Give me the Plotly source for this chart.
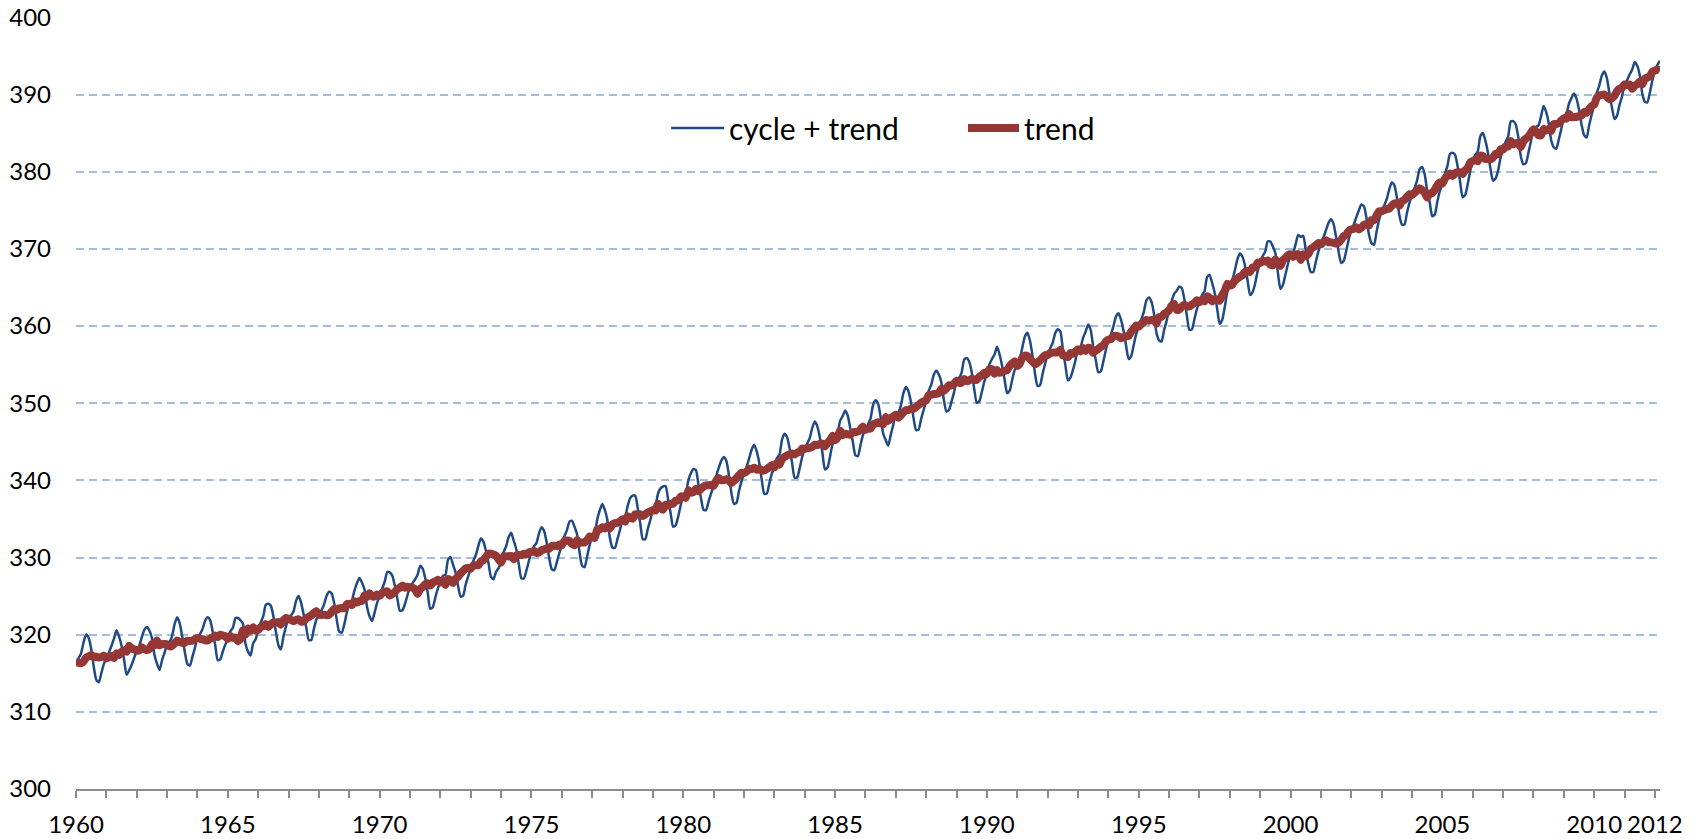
import plotly.graph_objects as go

# ---- Monthly CO2 (ppm), "cycle + trend", Jan 1960 .. Mar 2012 (12 values per row = one year)
cycle_1960s = [
    316.43, 316.97, 317.58, 319.02, 320.03, 319.59, 318.18, 315.91, 314.16, 313.83, 315.00, 316.19,
    316.93, 317.70, 318.54, 319.48, 320.58, 319.77, 318.57, 316.79, 314.80, 315.38, 316.10, 317.01,
    317.94, 318.56, 319.68, 320.63, 321.01, 320.55, 319.58, 317.40, 316.26, 315.42, 316.69, 317.69,
    318.74, 319.08, 319.86, 321.39, 322.25, 321.47, 319.74, 317.77, 316.21, 315.99, 317.12, 318.31,
    319.57, 320.07, 320.73, 321.77, 322.25, 321.89, 320.44, 318.70, 316.70, 316.79, 317.79, 318.71,
    319.44, 320.44, 320.89, 322.13, 322.16, 321.87, 321.39, 318.80, 317.81, 317.30, 318.87, 319.42,
    320.62, 321.59, 322.39, 323.87, 324.01, 323.75, 322.39, 320.37, 318.64, 318.10, 319.79, 321.08,
    322.07, 322.50, 323.04, 324.42, 325.00, 324.09, 322.55, 320.92, 319.31, 319.31, 320.72, 321.96,
    322.57, 323.15, 323.89, 325.02, 325.57, 325.36, 324.14, 322.03, 320.41, 320.25, 321.31, 322.84,
    324.00, 324.42, 325.64, 326.66, 327.34, 326.76, 325.88, 323.67, 322.38, 321.78, 322.85, 324.11,
]
cycle_1970s = [
    325.03, 325.99, 326.87, 328.13, 328.07, 327.66, 326.35, 324.69, 323.10, 323.16, 323.98, 325.13,
    326.17, 326.68, 327.18, 327.78, 328.92, 328.57, 327.34, 325.46, 323.36, 323.57, 324.80, 326.01,
    326.77, 327.63, 327.75, 329.72, 330.07, 329.09, 328.05, 326.32, 324.93, 325.06, 326.50, 327.55,
    328.54, 329.56, 330.30, 331.50, 332.48, 332.07, 330.87, 329.31, 327.51, 327.18, 328.16, 328.64,
    329.35, 330.71, 331.48, 332.65, 333.20, 332.16, 331.07, 329.12, 327.32, 327.28, 328.30, 329.58,
    330.73, 331.46, 331.90, 333.17, 333.94, 333.45, 331.97, 329.95, 328.50, 328.34, 329.37, 330.58,
    331.59, 332.75, 333.52, 334.64, 334.77, 334.00, 333.06, 330.68, 328.95, 328.75, 330.15, 331.62,
    332.66, 333.13, 334.95, 336.13, 336.93, 336.17, 334.88, 332.56, 331.29, 331.27, 332.41, 333.60,
    334.95, 335.25, 336.66, 337.69, 338.03, 338.01, 336.41, 334.41, 332.37, 332.41, 333.75, 334.90,
    336.14, 336.69, 338.27, 338.96, 339.21, 339.26, 337.54, 335.75, 333.98, 334.19, 335.31, 336.81,
]
cycle_1980s = [
    337.90, 338.34, 340.01, 340.93, 341.48, 341.33, 339.40, 337.70, 336.19, 336.15, 337.27, 338.32,
    339.29, 340.55, 341.61, 342.53, 343.03, 342.54, 340.78, 338.44, 336.95, 337.08, 338.58, 339.88,
    340.96, 341.73, 342.81, 343.97, 344.63, 343.79, 342.32, 340.09, 338.28, 338.29, 339.60, 340.90,
    341.68, 342.90, 343.33, 345.25, 346.03, 345.63, 344.19, 342.27, 340.35, 340.38, 341.59, 343.05,
    344.10, 344.79, 345.52, 346.84, 347.63, 346.97, 345.53, 343.55, 341.40, 341.67, 343.10, 344.70,
    345.21, 346.16, 347.74, 348.34, 349.06, 348.38, 346.72, 345.02, 343.27, 343.13, 344.49, 345.88,
    346.56, 347.28, 348.01, 349.77, 350.38, 349.93, 348.16, 346.08, 345.22, 344.51, 345.93, 347.21,
    348.52, 348.73, 349.73, 351.31, 352.09, 351.53, 350.11, 348.08, 346.52, 346.59, 347.96, 349.16,
    350.39, 351.64, 352.41, 353.69, 354.21, 353.72, 352.69, 350.40, 348.92, 349.13, 350.20, 351.41,
    352.91, 353.27, 353.96, 355.64, 355.86, 355.37, 353.99, 351.81, 350.05, 350.25, 351.49, 352.85,
]
cycle_1990s = [
    353.80, 355.04, 355.73, 356.32, 357.32, 356.34, 354.84, 353.01, 351.31, 351.62, 353.07, 354.33,
    354.84, 355.73, 357.23, 358.66, 359.13, 358.13, 356.19, 353.85, 352.25, 352.35, 353.81, 355.12,
    356.25, 357.11, 357.86, 359.09, 359.59, 359.33, 357.01, 354.94, 352.96, 353.32, 354.32, 355.57,
    357.00, 357.31, 358.47, 359.27, 360.19, 359.52, 357.33, 355.64, 354.03, 354.12, 355.41, 356.91,
    358.24, 358.92, 359.99, 361.23, 361.65, 360.81, 359.38, 357.46, 355.73, 356.08, 357.53, 358.98,
    359.92, 360.86, 361.83, 363.30, 363.69, 363.19, 361.64, 359.12, 358.17, 357.99, 359.45, 360.68,
    362.07, 363.24, 364.17, 364.57, 365.13, 364.92, 363.55, 361.38, 359.54, 359.58, 360.89, 362.24,
    363.09, 364.03, 364.51, 366.35, 366.64, 365.59, 364.31, 362.25, 360.29, 360.82, 362.49, 364.38,
    365.26, 365.98, 367.24, 368.66, 369.42, 368.99, 367.82, 365.95, 364.02, 364.40, 365.52, 367.13,
    368.18, 369.07, 369.68, 370.99, 370.96, 370.30, 369.45, 366.90, 364.81, 365.37, 366.72, 368.10,
]
cycle_2000s = [
    369.29, 369.54, 370.60, 371.82, 371.58, 371.70, 369.86, 368.13, 367.00, 367.03, 368.37, 369.67,
    370.59, 371.51, 372.43, 373.37, 373.85, 373.22, 371.50, 369.61, 368.18, 368.45, 369.76, 371.24,
    372.53, 373.20, 374.12, 375.02, 375.76, 375.52, 374.01, 371.85, 370.75, 370.55, 372.25, 373.79,
    374.88, 375.64, 376.45, 377.73, 378.60, 378.28, 376.70, 374.38, 373.17, 373.15, 374.66, 375.99,
    377.00, 377.87, 378.88, 380.35, 380.62, 379.69, 377.47, 376.01, 374.25, 374.46, 376.16, 377.51,
    378.46, 379.73, 380.77, 382.29, 382.45, 382.21, 380.74, 378.74, 376.70, 377.00, 378.35, 380.11,
    381.38, 382.19, 382.67, 384.61, 385.03, 384.05, 382.46, 380.41, 378.85, 379.13, 380.15, 381.82,
    382.89, 383.90, 384.58, 386.50, 386.56, 386.10, 384.50, 381.99, 380.96, 381.12, 382.45, 383.95,
    385.52, 385.82, 386.03, 387.21, 388.54, 387.76, 386.36, 384.09, 383.18, 382.99, 384.19, 385.56,
    386.94, 387.48, 388.82, 389.55, 390.14, 389.48, 388.03, 386.11, 384.74, 384.43, 386.02, 387.42,
]
cycle_2010s = [
    388.71, 390.20, 391.17, 392.46, 393.00, 392.15, 390.20, 388.35, 386.85, 387.24, 388.67, 389.79,
    391.33, 391.86, 392.60, 393.25, 394.19, 393.74, 392.51, 390.13, 389.08, 389.00, 390.28, 391.86,
    393.12, 393.86, 394.40,
]

# ---- Monthly trend (ppm), same months
trend_1960s = [
    316.43, 316.37, 316.28, 316.52, 317.03, 317.19, 317.38, 317.11, 317.16, 317.03, 317.10, 317.29,
    316.93, 317.10, 317.24, 316.98, 317.58, 317.37, 317.77, 317.99, 317.80, 318.58, 318.20, 318.11,
    317.94, 317.96, 318.38, 318.13, 318.01, 318.15, 318.78, 318.60, 319.26, 318.62, 318.79, 318.79,
    318.74, 318.48, 318.56, 318.89, 319.25, 319.07, 318.94, 318.97, 319.21, 319.19, 319.22, 319.41,
    319.57, 319.47, 319.43, 319.27, 319.25, 319.49, 319.64, 319.90, 319.70, 319.99, 319.89, 319.81,
    319.44, 319.84, 319.59, 319.63, 319.16, 319.47, 320.59, 320.00, 320.81, 320.50, 320.97, 320.52,
    320.62, 320.99, 321.09, 321.37, 321.01, 321.35, 321.59, 321.57, 321.64, 321.30, 321.89, 322.18,
    322.07, 321.90, 321.74, 321.92, 322.00, 321.69, 321.75, 322.12, 322.31, 322.51, 322.82, 323.06,
    322.57, 322.55, 322.59, 322.52, 322.57, 322.96, 323.34, 323.23, 323.41, 323.45, 323.41, 323.94,
    324.00, 323.82, 324.34, 324.16, 324.34, 324.36, 325.08, 324.87, 325.38, 324.98, 324.95, 325.21,
]
trend_1970s = [
    325.03, 325.39, 325.57, 325.63, 325.07, 325.26, 325.55, 325.89, 326.10, 326.36, 326.08, 326.23,
    326.17, 326.08, 325.88, 325.28, 325.92, 326.17, 326.54, 326.66, 326.36, 326.77, 326.90, 327.11,
    326.77, 327.03, 326.45, 327.22, 327.07, 326.69, 327.25, 327.52, 327.93, 328.26, 328.60, 328.65,
    328.54, 328.96, 329.00, 329.00, 329.48, 329.67, 330.07, 330.51, 330.51, 330.38, 330.26, 329.74,
    329.35, 330.11, 330.18, 330.15, 330.20, 329.76, 330.27, 330.32, 330.32, 330.48, 330.40, 330.68,
    330.73, 330.86, 330.60, 330.67, 330.94, 331.05, 331.17, 331.15, 331.50, 331.54, 331.47, 331.68,
    331.59, 332.15, 332.22, 332.14, 331.77, 331.60, 332.26, 331.88, 331.95, 331.95, 332.25, 332.72,
    332.66, 332.53, 333.65, 333.63, 333.93, 333.77, 334.08, 333.76, 334.29, 334.47, 334.51, 334.70,
    334.95, 334.65, 335.36, 335.19, 335.03, 335.61, 335.61, 335.61, 335.37, 335.61, 335.85, 336.00,
    336.14, 336.09, 336.97, 336.46, 336.21, 336.86, 336.74, 336.95, 336.98, 337.39, 337.41, 337.91,
]
trend_1980s = [
    337.90, 337.74, 338.71, 338.43, 338.48, 338.93, 338.60, 338.90, 339.19, 339.35, 339.37, 339.42,
    339.29, 339.95, 340.31, 340.03, 340.03, 340.14, 339.98, 339.64, 339.95, 340.28, 340.68, 340.98,
    340.96, 341.13, 341.51, 341.47, 341.63, 341.39, 341.52, 341.29, 341.28, 341.49, 341.70, 342.00,
    341.68, 342.30, 342.03, 342.75, 343.03, 343.23, 343.39, 343.47, 343.35, 343.58, 343.69, 344.15,
    344.10, 344.19, 344.22, 344.34, 344.63, 344.57, 344.73, 344.75, 344.40, 344.87, 345.20, 345.80,
    345.21, 345.56, 346.44, 345.84, 346.06, 345.98, 345.92, 346.22, 346.27, 346.33, 346.59, 346.98,
    346.56, 346.68, 346.71, 347.27, 347.38, 347.53, 347.36, 347.28, 348.22, 347.71, 348.03, 348.31,
    348.52, 348.13, 348.43, 348.81, 349.09, 349.13, 349.31, 349.28, 349.52, 349.79, 350.06, 350.26,
    350.39, 351.04, 351.11, 351.19, 351.21, 351.32, 351.89, 351.60, 351.92, 352.33, 352.30, 352.51,
    352.91, 352.67, 352.66, 353.14, 352.86, 352.97, 353.19, 353.01, 353.05, 353.45, 353.59, 353.95,
]
trend_1990s = [
    353.80, 354.44, 354.43, 353.82, 354.32, 353.94, 354.04, 354.21, 354.31, 354.82, 355.17, 355.43,
    354.84, 355.13, 355.93, 356.16, 356.13, 355.73, 355.39, 355.05, 355.25, 355.55, 355.91, 356.22,
    356.25, 356.51, 356.56, 356.59, 356.59, 356.93, 356.21, 356.14, 355.96, 356.52, 356.42, 356.67,
    357.00, 356.71, 357.17, 356.77, 357.19, 357.12, 356.53, 356.84, 357.03, 357.32, 357.51, 358.01,
    358.24, 358.32, 358.69, 358.73, 358.65, 358.41, 358.58, 358.66, 358.73, 359.28, 359.63, 360.08,
    359.92, 360.26, 360.53, 360.80, 360.69, 360.79, 360.84, 360.32, 361.17, 361.19, 361.55, 361.78,
    362.07, 362.64, 362.87, 362.07, 362.13, 362.52, 362.75, 362.58, 362.54, 362.78, 362.99, 363.34,
    363.09, 363.43, 363.21, 363.85, 363.64, 363.19, 363.51, 363.45, 363.29, 364.02, 364.59, 365.48,
    365.26, 365.38, 365.94, 366.16, 366.42, 366.59, 367.02, 367.15, 367.02, 367.60, 367.62, 368.23,
    368.18, 368.47, 368.38, 368.49, 367.96, 367.90, 368.65, 368.10, 367.81, 368.57, 368.82, 369.20,
]
trend_2000s = [
    369.29, 368.94, 369.30, 369.32, 368.58, 369.30, 369.06, 369.33, 370.00, 370.23, 370.47, 370.77,
    370.59, 370.91, 371.13, 370.87, 370.85, 370.82, 370.70, 370.81, 371.18, 371.65, 371.86, 372.34,
    372.53, 372.60, 372.82, 372.52, 372.76, 373.12, 373.21, 373.05, 373.75, 373.75, 374.35, 374.89,
    374.88, 375.04, 375.15, 375.23, 375.60, 375.88, 375.90, 375.58, 376.17, 376.35, 376.76, 377.09,
    377.00, 377.27, 377.58, 377.85, 377.62, 377.29, 376.67, 377.21, 377.25, 377.66, 378.26, 378.61,
    378.46, 379.13, 379.47, 379.79, 379.45, 379.81, 379.94, 379.94, 379.70, 380.20, 380.45, 381.21,
    381.38, 381.59, 381.37, 382.11, 382.03, 381.65, 381.66, 381.61, 381.85, 382.33, 382.25, 382.92,
    382.89, 383.30, 383.28, 384.00, 383.56, 383.70, 383.70, 383.19, 383.96, 384.32, 384.55, 385.05,
    385.52, 385.22, 384.73, 384.71, 385.54, 385.36, 385.56, 385.29, 386.18, 386.19, 386.29, 386.66,
    386.94, 386.88, 387.52, 387.05, 387.14, 387.08, 387.23, 387.31, 387.74, 387.63, 388.12, 388.52,
]
trend_2010s = [
    388.71, 389.60, 389.87, 389.96, 390.00, 389.75, 389.40, 389.55, 389.85, 390.44, 390.77, 390.89,
    391.33, 391.26, 391.30, 390.75, 391.19, 391.34, 391.71, 391.33, 392.08, 392.20, 392.38, 392.96,
    393.12, 393.26, 393.10,
]

start_year = 1960
tick_years = [1960, 1965, 1970, 1975, 1980, 1985, 1990, 1995, 2000, 2005, 2010, 2012]
tick_labels = [str(y) for y in tick_years]
y_ticks = [300, 310, 320, 330, 340, 350, 360, 370, 380, 390, 400]
series_names = ["cycle + trend", "trend"]

cycle = cycle_1960s + cycle_1970s + cycle_1980s + cycle_1990s + cycle_2000s + cycle_2010s
trend = trend_1960s + trend_1970s + trend_1980s + trend_1990s + trend_2000s + trend_2010s
months = [start_year + i / 12 for i in range(len(cycle))]

BLUE = "#1F4A84"
RED = "#953735"
GRID = "#A4BDDC"
AXIS = "#8C8C8C"
FONT = "Lato"

W, H = 1705, 839
L, R, T, B = 76, 45, 17, 50
PW, PH = W - L - R, H - T - B


def px_x(p):
    return (p - L) / PW


def px_y(p):
    return (H - B - p) / PH


fig = go.Figure()
fig.add_trace(go.Scatter(x=months, y=cycle, mode="lines", name=series_names[0],
                         line=dict(color=BLUE, width=2.5, shape="spline", smoothing=0.6)))
fig.add_trace(go.Scatter(x=months, y=trend, mode="lines", name=series_names[1],
                         line=dict(color=RED, width=8, shape="spline", smoothing=0.4)))

# legend drawn inside the plot, like the original
legend_y = px_y(128)
fig.add_shape(type="line", xref="paper", yref="paper", x0=px_x(671), x1=px_x(724),
              y0=legend_y, y1=legend_y, line=dict(color=BLUE, width=2.5))
fig.add_shape(type="line", xref="paper", yref="paper", x0=px_x(968), x1=px_x(1019),
              y0=legend_y, y1=legend_y, line=dict(color=RED, width=8))
fig.add_annotation(xref="paper", yref="paper", x=px_x(727), y=legend_y, text=series_names[0],
                   showarrow=False, xanchor="left", yanchor="middle",
                   font=dict(family=FONT, size=30, color="black"))
fig.add_annotation(xref="paper", yref="paper", x=px_x(1022), y=legend_y, text=series_names[1],
                   showarrow=False, xanchor="left", yanchor="middle",
                   font=dict(family=FONT, size=30, color="black"))

fig.update_layout(
    width=W, height=H, margin=dict(l=L, r=R, t=T, b=B, pad=0, autoexpand=False),
    plot_bgcolor="white", paper_bgcolor="white", showlegend=False,
    font=dict(family=FONT, size=24, color="black"),
)
fig.update_xaxes(
    range=[start_year, months[-1]], tickmode="array", tickvals=tick_years, ticktext=tick_labels,
    ticks="outside", ticklen=7, tickwidth=1.5, tickcolor=AXIS,
    showline=True, linecolor=AXIS, linewidth=1.5, showgrid=False, zeroline=False,
    ticklabelstandoff=6, automargin=False,
    minor=dict(tickmode="array", tickvals=list(range(1960, 2013)), ticks="outside",
               ticklen=7, tickwidth=1.5, tickcolor=AXIS, showgrid=False),
)
fig.update_yaxes(
    range=[300, 400.06], tickmode="array", tickvals=y_ticks, ticks="", showline=False,
    showgrid=True, gridcolor=GRID, gridwidth=1.5, griddash="8px,5px", zeroline=False,
    ticklabelstandoff=24, automargin=False,
)

fig.write_html("out.html", config={"displayModeBar": False},
               post_script="document.body.style.margin='0px';")
